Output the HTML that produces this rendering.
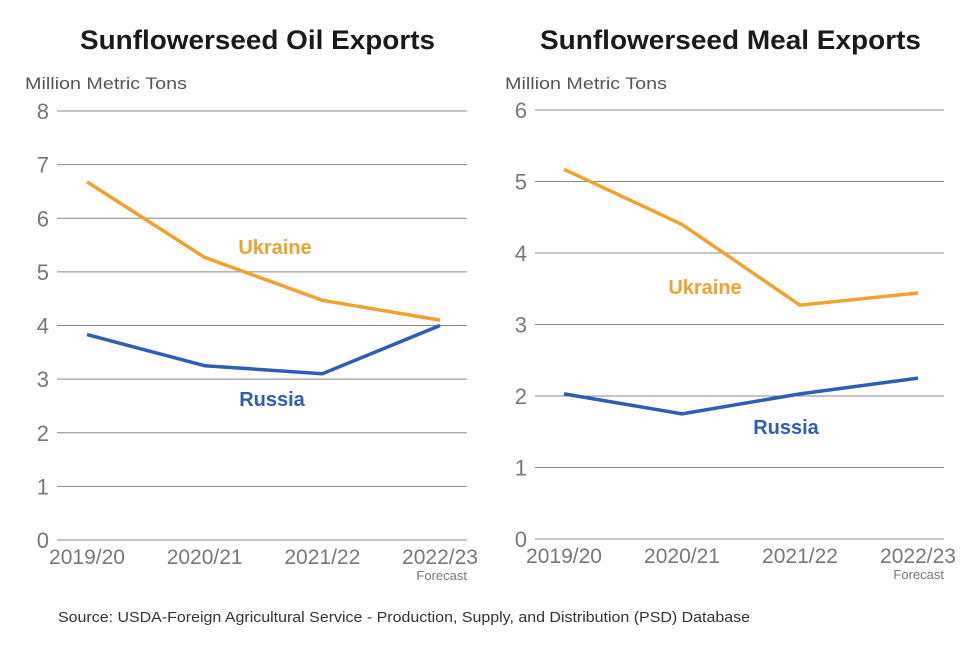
<!DOCTYPE html>
<html><head><meta charset="utf-8"><style>
body{margin:0;background:#fff;width:976px;height:645px;overflow:hidden;font-family:"Liberation Sans",Arial,sans-serif}
</style></head><body>
<svg id="svg" width="976" height="645" xmlns="http://www.w3.org/2000/svg">
<text x="80" y="49" font-size="27" font-weight="bold" fill="#1a1a1a" textLength="355" lengthAdjust="spacingAndGlyphs">Sunflowerseed Oil Exports</text>
<text x="540" y="49" font-size="27" font-weight="bold" fill="#1a1a1a" textLength="381" lengthAdjust="spacingAndGlyphs">Sunflowerseed Meal Exports</text>
<text x="25" y="89" font-size="17" fill="#555" textLength="162" lengthAdjust="spacingAndGlyphs">Million Metric Tons</text>
<text x="505" y="89" font-size="17" fill="#555" textLength="162" lengthAdjust="spacingAndGlyphs">Million Metric Tons</text>
<text x="58" y="622" font-size="15" fill="#333" textLength="692" lengthAdjust="spacingAndGlyphs">Source: USDA-Foreign Agricultural Service - Production, Supply, and Distribution (PSD) Database</text>
</svg>
<script>
const categories=["2019/20","2020/21","2021/22","2022/23"];
const oilTicks=[0,1,2,3,4,5,6,7,8];
const oilUkraine=[6.68,5.27,4.47,4.1];
const oilRussia=[3.83,3.25,3.1,4.0];
const mealTicks=[0,1,2,3,4,5,6];
const mealUkraine=[5.17,4.4,3.27,3.44];
const mealRussia=[2.03,1.75,2.03,2.25];
const NS="http://www.w3.org/2000/svg";
const svg=document.getElementById('svg');
function mk(tag,attrs,text){const e=document.createElementNS(NS,tag);for(const k in attrs)e.setAttribute(k,attrs[k]);if(text!==undefined)e.textContent=text;svg.appendChild(e);return e;}
function chart(cfg){
  const ymax=cfg.ticks[cfg.ticks.length-1];
  const y=v=>cfg.y0-(cfg.y0-cfg.y1)*v/ymax;
  const x=i=>cfg.xa+(cfg.xb-cfg.xa)*i/(categories.length-1);
  cfg.ticks.forEach(t=>{
    const l=mk('line',{x1:cfg.gx0,x2:cfg.gx1,y1:y(t),y2:y(t),stroke:'#888','stroke-width':1});
    
    
    const tx=mk('text',{x:cfg.gx0-8,y:y(t)+8,'text-anchor':'end','font-size':22,fill:'#777'},String(t));
    
    
  });
  categories.forEach((c,i)=>{
    const tx=mk('text',{x:x(i),y:y(0)+24,'text-anchor':'middle','font-size':21,fill:'#777'},c);
    
    
  });
  const f=mk('text',{x:cfg.gx1,y:y(0)+40,'text-anchor':'end','font-size':13,fill:'#777'},'Forecast');
  
  
  [[cfg.ukr,'#f0a22e','ukraine'],[cfg.rus,'#2e5db5','russia']].forEach(([d,col,n])=>{
    const p=mk('polyline',{points:d.map((v,i)=>x(i)+','+y(v)).join(' '),fill:'none',stroke:col,'stroke-width':3.5,'stroke-linejoin':'round'});
    
    
  });
  const u=mk('text',{x:cfg.uLab[0],y:cfg.uLab[1],'text-anchor':'middle','font-size':20,'font-weight':'bold',fill:'#f0a22e'},'Ukraine');
  
  
  const r=mk('text',{x:cfg.rLab[0],y:cfg.rLab[1],'text-anchor':'middle','font-size':20,'font-weight':'bold',fill:'#2e5db5'},'Russia');
  
  
}
chart({id:'oil',ticks:oilTicks,ukr:oilUkraine,rus:oilRussia,y0:540,y1:111,gx0:57,gx1:467,xa:87,xb:440,uLab:[275,254],rLab:[272,406]});
chart({id:'meal',ticks:mealTicks,ukr:mealUkraine,rus:mealRussia,y0:539,y1:110,gx0:535,gx1:944,xa:564,xb:918,uLab:[705,294],rLab:[786,434]});
</script>
</body></html>
